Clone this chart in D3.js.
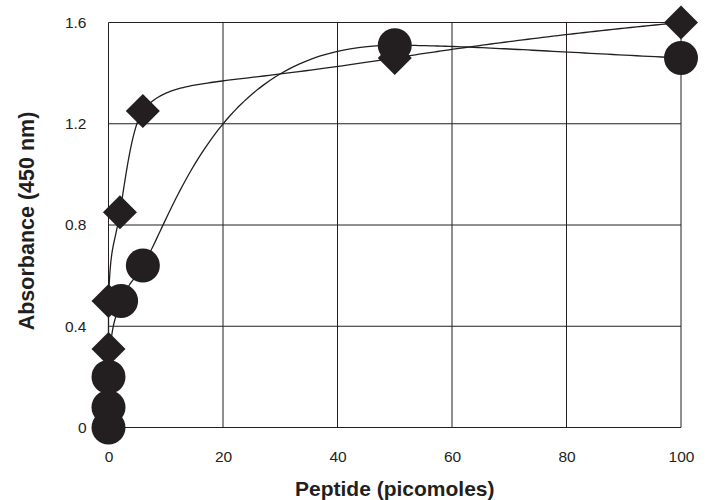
<!DOCTYPE html>
<html>
<head>
<meta charset="utf-8">
<script src="https://cdn.jsdelivr.net/npm/d3@7"></script>
<style>
  body { margin: 0; background: #fff; }
  svg { display: block; }
  text { font-family: "Liberation Sans", Arial, sans-serif; fill: #231f20; }
</style>
</head>
<body>
<svg id="chart" width="711" height="500"></svg>
<script>
// ---- data ----
const xTicks = [0, 20, 40, 60, 80, 100];
const yTicks = [0, 0.4, 0.8, 1.2, 1.6];
const yTickLabels = ["0", "0.4", "0.8", "1.2", "1.6"];

const diamondX = [0, 0, 2, 6, 50, 100];
const diamondY = [0.31, 0.5, 0.85, 1.25, 1.46, 1.6];

const circleX = [0, 0, 0, 2.2, 6, 50, 100];
const circleY = [0, 0.08, 0.2, 0.5, 0.64, 1.51, 1.46];

const xTitle = "Peptide (picomoles)";
const yTitle = "Absorbance (450 nm)";

// ---- layout ----
const ink = "#231f20";
const svg = d3.select("#chart");
const padL = 108.5, padR = 681, padT = 22.5, padB = 427.5;

const x = d3.scaleLinear().domain([0, 100]).range([padL, padR]);
const y = d3.scaleLinear().domain([0, 1.6]).range([padB, padT]);

// grid
const g = svg.append("g");
g.selectAll("line.v").data(xTicks).join("line")
  .attr("x1", d => x(d)).attr("x2", d => x(d))
  .attr("y1", padT).attr("y2", padB)
  .attr("stroke", ink).attr("stroke-width", 1);
g.selectAll("line.h").data(yTicks).join("line")
  .attr("y1", d => y(d)).attr("y2", d => y(d))
  .attr("x1", padL).attr("x2", padR)
  .attr("stroke", ink).attr("stroke-width", 1);

// axes labels
const xAxis = d3.axisBottom(x).tickValues(xTicks).tickSize(0).tickPadding(0).tickFormat(d3.format("d"));
const xg = svg.append("g").attr("transform", `translate(0,${padB})`).call(xAxis);
xg.select(".domain").remove();
xg.selectAll("text").attr("font-size", 15.5).attr("dy", 34)
  .style("font-family", '"Liberation Sans", Arial, sans-serif').attr("fill", ink);

const yAxis = d3.axisLeft(y).tickValues(yTicks).tickSize(0).tickPadding(22)
  .tickFormat((d, i) => yTickLabels[i]);
const yg = svg.append("g").attr("transform", `translate(${padL},0)`).call(yAxis);
yg.select(".domain").remove();
yg.selectAll("text").attr("font-size", 15.5)
  .style("font-family", '"Liberation Sans", Arial, sans-serif').attr("fill", ink);

// titles
svg.append("text").attr("x", (padL + padR) / 2).attr("y", 496)
  .attr("text-anchor", "middle").attr("font-size", 21).attr("font-weight", "bold")
  .text(xTitle);
svg.append("text").attr("transform", `translate(33.5,221) rotate(-90)`)
  .attr("text-anchor", "middle").attr("font-size", 21.5).attr("font-weight", "bold")
  .text(yTitle);

// smooth curve: monotone cubic interpolation in log(1+x) space, drawn in pixel space
function logMonotoneCurve(context) {
  let pts = [];
  return {
    lineStart() { pts = []; },
    lineEnd() {
      const n = pts.length;
      if (!n) return;
      const u = pts.map(p => Math.log1p(x.invert(p[0])));
      const v = pts.map(p => y.invert(p[1]));
      const sgn = a => a < 0 ? -1 : 1;
      const m = new Array(n).fill(0);
      const sec = i => { const h = u[i + 1] - u[i]; return h ? (v[i + 1] - v[i]) / h : (v[i + 1] - v[i]) * Infinity; };
      for (let i = 1; i < n - 1; i++) {
        const h0 = u[i] - u[i - 1], h1 = u[i + 1] - u[i];
        const s0 = sec(i - 1), s1 = sec(i);
        const p = (s0 * h1 + s1 * h0) / (h0 + h1);
        m[i] = (sgn(s0) + sgn(s1)) * Math.min(Math.abs(s0), Math.abs(s1), 0.5 * Math.abs(p)) || 0;
      }
      if (n > 1) {
        const h0 = u[1] - u[0];
        m[0] = h0 ? (3 * (v[1] - v[0]) / h0 - m[1]) / 2 : m[1];
        const h1 = u[n - 1] - u[n - 2];
        m[n - 1] = h1 ? (3 * (v[n - 1] - v[n - 2]) / h1 - m[n - 2]) / 2 : m[n - 2];
      }
      context.moveTo(pts[0][0], pts[0][1]);
      for (let i = 0; i < n - 1; i++) {
        const h = u[i + 1] - u[i];
        if (!h) { context.lineTo(pts[i + 1][0], pts[i + 1][1]); continue; }
        const steps = 60;
        for (let k = 1; k <= steps; k++) {
          const t = k / steps, t2 = t * t, t3 = t2 * t;
          const vv = (2 * t3 - 3 * t2 + 1) * v[i] + (t3 - 2 * t2 + t) * h * m[i]
                   + (-2 * t3 + 3 * t2) * v[i + 1] + (t3 - t2) * h * m[i + 1];
          const uu = u[i] + t * h;
          context.lineTo(x(Math.expm1(uu)), y(vv));
        }
      }
    },
    point(px, py) { pts.push([+px, +py]); },
    areaStart() {}, areaEnd() {}
  };
}

// lines
const line = d3.line().x(d => x(d[0])).y(d => y(d[1])).curve(logMonotoneCurve);
const diamonds = diamondX.map((v, i) => [v, diamondY[i]]);
const circles = circleX.map((v, i) => [v, circleY[i]]);

svg.append("path").datum(diamonds).attr("d", line)
  .attr("fill", "none").attr("stroke", ink).attr("stroke-width", 1.3);
svg.append("path").datum(circles).attr("d", line)
  .attr("fill", "none").attr("stroke", ink).attr("stroke-width", 1.3);

// markers
const diamondSym = d3.symbol().type(d3.symbolSquare).size(580);
svg.append("g").selectAll("path").data(diamonds).join("path")
  .attr("d", diamondSym)
  .attr("transform", d => `translate(${x(d[0])},${y(d[1])}) rotate(45)`)
  .attr("fill", ink);

svg.append("g").selectAll("circle").data(circles).join("circle")
  .attr("cx", d => x(d[0])).attr("cy", d => y(d[1])).attr("r", 17)
  .attr("fill", ink);
</script>
</body>
</html>
